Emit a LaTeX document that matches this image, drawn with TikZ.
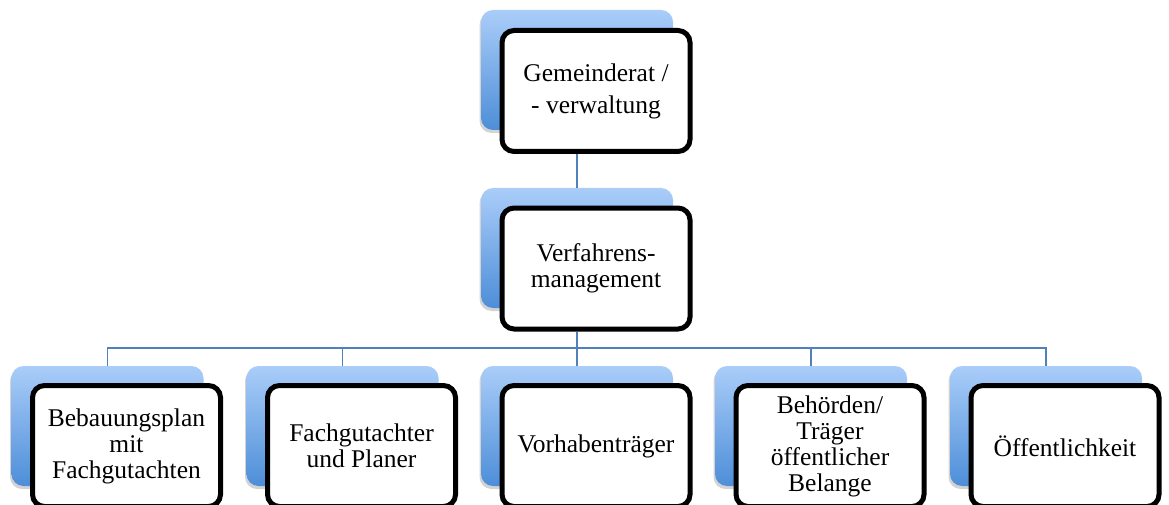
\documentclass[tikz,border=0pt]{standalone}
\usepackage{fontspec}
\setmainfont{Liberation Serif}
\usetikzlibrary{shadows}
\definecolor{blatthell}{HTML}{AACDF9}
\definecolor{blattdunkel}{HTML}{4D8ED8}
\definecolor{linie}{HTML}{4F81BD}
\tikzset{
  hinten/.style={rounded corners=12pt, minimum width=192pt, minimum height=120pt,
    top color=blatthell, bottom color=blattdunkel, draw=none,
    drop shadow={shadow xshift=-1.5pt, shadow yshift=-3pt, opacity=0.35}},
  vorne/.style={rounded corners=12pt, draw=black, line width=5pt, fill=white,
    minimum width=188pt, minimum height=121pt, align=center,
    font=\fontsize{25.5}{26}\selectfont},
  verbindung/.style={draw=linie, line width=1.5pt}
}
\begin{document}
\begin{tikzpicture}[x=1pt, y=-1pt]
				\useasboundingbox (0,0) rectangle (1169,505);
				% Ebene 1
				\node[hinten] (gemH) at (577,70) {};
				\node[vorne, font=\fontsize{25.5}{32}\selectfont] (gem) at (596,91) {Gemeinderat /\\- verwaltung};
				% Ebene 2
				\node[hinten] (verfH) at (577,248) {};
				\node[vorne] (verf) at (596,268.5) {Verfahrens-\\management};
				% Ebene 3
				\node[hinten] (bplanH) at (107.5,426) {};
				\node[vorne] (bplan) at (126.5,446) {Bebauungsplan\\mit\\Fachgutachten};
				\node[hinten] (gutH) at (342.5,426) {};
				\node[vorne] (gut) at (361.5,446) {Fachgutachter\\und Planer};
				\node[hinten] (vorH) at (577,426) {};
				\node[vorne] (vor) at (596,446) {Vorhabenträger};
				\node[hinten] (behH) at (811,426) {};
				\node[vorne] (beh) at (830,446) {Behörden/\\Träger\\öffentlicher\\Belange};
				\node[hinten] (oeffH) at (1046,426) {};
				\node[vorne] (oeff) at (1065,446) {Öffentlichkeit};
				% Verbindungen
				\coordinate (knoten) at (577,348);
				\draw[verbindung] (gemH.south |- gem.south) -- (verfH.north);
				\draw[verbindung] (verfH.south |- verf.south) -- (knoten);
				\draw[verbindung] (knoten) -| (bplanH.north) (knoten) -| (gutH.north)
				  (knoten) -- (vorH.north) (knoten) -| (behH.north) (knoten) -| (oeffH.north);
			\end{tikzpicture}
\end{document}
